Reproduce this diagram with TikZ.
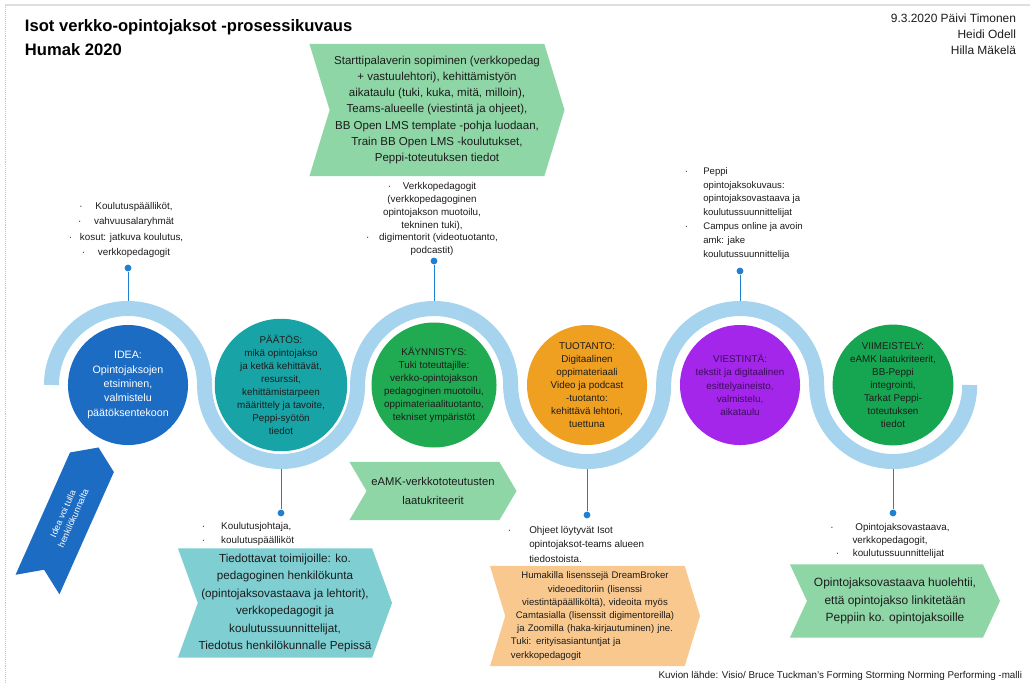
\documentclass[tikz,border=0pt]{standalone}
\usepackage{fontspec}
\setmainfont{Liberation Sans}
\usepackage{tikz}
\usetikzlibrary{shapes.symbols}

\definecolor{wave}{RGB}{166,211,238}
\definecolor{pin}{RGB}{30,128,210}
\definecolor{ideablue}{RGB}{28,108,196}
\definecolor{teal}{RGB}{24,164,166}
\definecolor{startgreen}{RGB}{32,170,82}
\definecolor{prodorange}{RGB}{240,160,32}
\definecolor{purple}{RGB}{165,38,235}
\definecolor{endgreen}{RGB}{22,166,82}
\definecolor{lgreen}{RGB}{142,214,166}
\definecolor{lteal}{RGB}{126,206,210}
\definecolor{peach}{RGB}{248,200,142}
\definecolor{txtdark}{RGB}{28,28,28}
\definecolor{txtpurple}{RGB}{62,12,92}

\begin{document}
\begin{tikzpicture}[
x=0.025cm, y=0.025cm,
every node/.style={text=txtdark},
stage/.style={circle, minimum size=3cm, inner sep=0pt, align=center,
    font=\fontsize{7}{9.3}\selectfont},
chev/.style={signal, signal to=east, signal from=west, inner sep=0pt, align=center},
band/.style={draw=wave, line width=0.375cm},
pindot/.style={circle, fill=pin, inner sep=0pt, minimum size=0.17cm},
pinline/.style={draw=pin, line width=0.6pt},
bullets/.style={align=center, font=\fontsize{7}{10.5}\selectfont}
]

\fill[white] (0,-683) rectangle (1030,0);
\useasboundingbox (0,-683) rectangle (1030,0);
\draw[gray!25, line width=1pt] (5,-5) -- (1030,-5);
\draw[gray!45, densely dotted] (5,-5) -- (5,-683);

\node[anchor=north west, align=left, text=black,
    font=\bfseries\fontsize{11.8}{16.5}\selectfont] (otsikko) at (20,-15)
    {Isot verkko-opintojaksot -prosessikuvaus\\Humak 2020};
\node[anchor=north east, align=right, font=\fontsize{8.5}{11.4}\selectfont]
    (tekijat) at (1021,-9) {9.3.2020 Päivi Timonen\\Heidi Odell\\Hilla Mäkelä};

\draw[band] (51.5,-385)
    arc[start angle=180, end angle=0, radius=1.9125cm]
    arc[start angle=180, end angle=360, radius=1.9125cm]
    arc[start angle=180, end angle=0, radius=1.9125cm]
    arc[start angle=180, end angle=360, radius=1.9125cm]
    arc[start angle=180, end angle=0, radius=1.9125cm]
    arc[start angle=180, end angle=360, radius=1.9125cm];

\node[stage, fill=ideablue, text=white, font=\fontsize{7.6}{10.2}\selectfont] (idea) at (128,-385)
    {IDEA:\\Opintojaksojen\\etsiminen,\\valmistelu\\päätöksentekoon};
\node[stage, fill=teal] (paatos) at (281,-385)
    {PÄÄTÖS:\\mikä opintojakso\\ja ketkä kehittävät,\\resurssit,\\kehittämistarpeen\\määrittely ja tavoite,\\Peppi-syötön\\tiedot};
\node[stage, fill=startgreen] (kaynnistys) at (434,-385)
    {KÄYNNISTYS:\\Tuki toteuttajille:\\verkko-opintojakson\\pedagoginen muotoilu,\\oppimateriaalituotanto,\\tekniset ympäristöt};
\node[stage, fill=prodorange] (tuotanto) at (587,-385)
    {TUOTANTO:\\Digitaalinen\\oppimateriaali\\Video ja podcast\\-tuotanto:\\kehittävä lehtori,\\tuettuna};
\node[stage, fill=purple, text=txtpurple] (viestinta) at (740,-385)
    {VIESTINTÄ:\\tekstit ja digitaalinen\\esittelyaineisto,\\valmistelu,\\aikataulu};
\node[stage, fill=endgreen] (viimeistely) at (893,-385)
    {VIIMEISTELY:\\eAMK laatukriteerit,\\BB-Peppi\\integrointi,\\Tarkat Peppi-\\toteutuksen\\tiedot};

\node[pindot] (d1) at (128,-268) {};
\node[pindot] (d2) at (281,-513) {};
\node[pindot] (d3) at (434,-261) {};
\node[pindot] (d4) at (587,-515) {};
\node[pindot] (d5) at (740,-271) {};
\node[pindot] (d6) at (893,-513) {};
\coordinate (b1) at (128,-301);
\coordinate (b2) at (281,-469);
\coordinate (b3) at (434,-301);
\coordinate (b4) at (587,-469);
\coordinate (b5) at (740,-301);
\coordinate (b6) at (893,-469);
\draw[pinline] (d1) -- (b1);
\draw[pinline] (d2) -- (b2);
\draw[pinline] (d3) -- (b3);
\draw[pinline] (d4) -- (b4);
\draw[pinline] (d5) -- (b5);
\draw[pinline] (d6) -- (b6);

\node[bullets, font=\fontsize{7}{10.9}\selectfont] (toimijat1) at (126,-230)
    {·\hspace{1.3em}Koulutuspäälliköt,\\·\hspace{1.3em}vahvuusalaryhmät\\·\hspace{0.8em}kosut: jatkuva koulutus,\\·\hspace{1.3em}verkkopedagogit};
\node[bullets, font=\fontsize{7}{9.2}\selectfont] (toimijat3) at (432,-219)
    {·\hspace{1.2em}Verkkopedagogit\\(verkkopedagoginen\\opintojakson muotoilu,\\tekninen tuki),\\·\hspace{1em}digimentorit (videotuotanto,\\podcastit)};
\node[anchor=west, font=\fontsize{6.8}{9.8}\selectfont] (toimijat5) at (680,-213)
    {\begin{tabular}{@{}l@{\hspace{0.38cm}}l@{}}
    · & Peppi\\ & opintojaksokuvaus:\\ & opintojaksovastaava ja\\ & koulutussuunnittelijat\\
    · & Campus online ja avoin\\ & amk: jake\\ & koulutussuunnittelija
    \end{tabular}};
\node[anchor=west, font=\fontsize{7}{9.6}\selectfont] (toimijat2) at (197,-534)
    {\begin{tabular}{@{}l@{\hspace{0.4cm}}l@{}}
    · & Koulutusjohtaja,\\ · & koulutuspäälliköt
    \end{tabular}};
\node[anchor=west, font=\fontsize{7}{10.5}\selectfont] (toimijat4) at (503,-545)
    {\begin{tabular}{@{}l@{\hspace{0.45cm}}l@{}}
    · & Ohjeet löytyvät Isot\\ & opintojaksot-teams alueen\\ & tiedostoista.
    \end{tabular}};
\node[bullets, font=\fontsize{7}{9.3}\selectfont] (toimijat6) at (890,-541)
    {·\hspace{2.2em}Opintojaksovastaava,\\verkkopedagogit,\\·\hspace{1.4em}koulutussuunnittelijat};

\node[chev, fill=lgreen, minimum width=6.375cm, minimum height=3.3cm,
    signal pointer angle=146, font=\fontsize{8.2}{11.4}\selectfont] (startti) at (437,-110)
    {Starttipalaverin sopiminen (verkkopedag\\+ vastuulehtori), kehittämistyön\\aikataulu (tuki, kuka, mitä, milloin),\\Teams-alueelle (viestintä ja ohjeet),\\BB Open LMS template -pohja luodaan,\\Train BB Open LMS -koulutukset,\\Peppi-toteutuksen tiedot};
\node[chev, fill=lgreen, minimum width=4.175cm, minimum height=1.45cm,
    signal pointer angle=119, font=\fontsize{8}{13}\selectfont] (laatu) at (433,-491)
    {eAMK-verkkototeutusten\\laatukriteerit};
\node[chev, fill=lteal, minimum width=5.35cm, minimum height=2.725cm,
    signal pointer angle=140, font=\fontsize{8.3}{12.4}\selectfont] (tiedotus) at (285,-603)
    {Tiedottavat toimijoille: ko.\\pedagoginen henkilökunta\\(opintojaksovastaava ja lehtorit),\\verkkopedagogit ja\\koulutussuunnittelijat,\\Tiedotus henkilökunnalle Pepissä};
\node[chev, fill=peach, minimum width=5.25cm, minimum height=2.5cm, text width=4.2cm,
    signal pointer angle=146, font=\fontsize{6.8}{9.4}\selectfont] (lisenssit) at (595,-616)
    {Humakilla lisenssejä DreamBroker\\videoeditoriin (lisenssi\\viestintäpäälliköltä), videoita myös\\Camtasialla (lisenssit digimentoreilla)\\ja Zoomilla (haka-kirjautuminen) jne.\\
    \makebox[\linewidth][l]{Tuki: erityisasiantuntjat ja}\\\makebox[\linewidth][l]{verkkopedagogit}};
\node[chev, fill=lgreen, minimum width=5.25cm, minimum height=1.825cm,
    signal pointer angle=130, font=\fontsize{8.5}{12.4}\selectfont] (linkitys) at (895,-601)
    {Opintojaksovastaava huolehtii,\\että opintojakso linkitetään\\Peppiin ko. opintojaksoille};
\node[chev, fill=ideablue, text=white, rotate=66, minimum width=3.75cm, minimum height=1.2cm,
    signal pointer angle=112, font=\fontsize{6.4}{8}\selectfont] (idealahde) at (68,-516)
    {Idea voi tulla\\henkilökunnalta};

\node[anchor=east, font=\fontsize{7}{8}\selectfont] (lahde) at (1027,-676)
    {Kuvion lähde: Visio/ Bruce Tuckman's Forming Storming Norming Performing -malli};
\end{tikzpicture}
\end{document}
